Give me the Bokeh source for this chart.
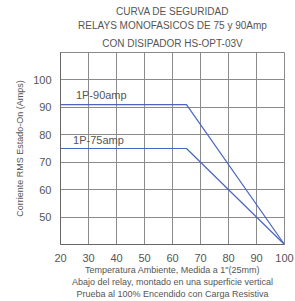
from bokeh.plotting import figure
from bokeh.models import Label, Range1d, FixedTicker, Title
from bokeh.embed import file_html
from bokeh.resources import INLINE

# Data
temp_90 = [20, 65, 100]
amps_90 = [91, 91, 40]
temp_75 = [20, 65, 100]
amps_75 = [75, 75, 40]
x_ticks = [20, 30, 40, 50, 60, 70, 80, 90, 100]
y_ticks = [50, 60, 70, 80, 90, 100]
title_lines = ["CURVA DE SEGURIDAD",
               "RELAYS MONOFASICOS DE 75 y 90Amp",
               "CON DISIPADOR HS-OPT-03V"]
xlabel_lines = ["Temperatura Ambiente, Medida a 1\"(25mm)",
                "Abajo del relay, montado en una superficie vertical",
                "Prueba al 100% Encendido con Carga Resistiva"]
ylabel = "Corriente RMS Estado-On (Amps)"
series_labels = ["1P-90amp", "1P-75amp"]

FONT = "Liberation Sans"
TXT = "#555555"
GRID = "#8a8a8a"
LINE = "#4a66c0"

p = figure(width=295, height=301, output_backend="svg", toolbar_location=None,
           title=None,
           x_range=Range1d(20, 100), y_range=Range1d(40, 110),
           min_border_left=60, min_border_right=11, min_border_top=52, min_border_bottom=54)
p.outline_line_color = GRID
p.background_fill_color = "white"

# title lines, added from the one nearest the frame outward
for i, t in enumerate(reversed(title_lines)):
    p.add_layout(Title(text=t, align="center", text_font=FONT, text_font_size="10px",
                       text_font_style="normal", text_color=TXT,
                       standoff=(8 if i == 0 else 1)), "above")

for ax in (p.xaxis[0], p.yaxis[0]):
    ax.major_tick_line_color = None
    ax.minor_tick_line_color = None
    ax.axis_line_color = "#666666"
    ax.major_label_text_font = FONT
    ax.major_label_text_font_size = "11px"
    ax.major_label_text_color = TXT
p.xaxis.major_label_standoff = 3
p.yaxis.major_label_standoff = 3
p.xaxis.ticker = FixedTicker(ticks=x_ticks)
p.yaxis.ticker = FixedTicker(ticks=y_ticks)
p.xgrid.ticker = FixedTicker(ticks=x_ticks)
p.ygrid.ticker = FixedTicker(ticks=y_ticks)
p.grid.grid_line_color = GRID
p.grid.grid_line_width = 1
p.grid.grid_line_alpha = 1

p.yaxis.axis_label = ylabel
p.yaxis.axis_label_text_font = FONT
p.yaxis.axis_label_text_font_size = "9px"
p.yaxis.axis_label_text_font_style = "normal"
p.yaxis.axis_label_text_color = TXT
p.yaxis.axis_label_standoff = 5

p.xaxis.axis_label = "\n".join(xlabel_lines)
p.xaxis.axis_label_text_font = FONT
p.xaxis.axis_label_text_font_size = "9px"
p.xaxis.axis_label_text_font_style = "normal"
p.xaxis.axis_label_text_color = TXT
p.xaxis.axis_label_text_line_height = 1.2
p.xaxis.axis_label_standoff = 0

p.line(temp_90, amps_90, line_color=LINE, line_width=1.2)
p.line(temp_75, amps_75, line_color=LINE, line_width=1.2)

p.add_layout(Label(x=25.5, y=92.3, text=series_labels[0], text_font=FONT,
                   text_font_size="11px", text_color=TXT, text_baseline="bottom"))
p.add_layout(Label(x=24.5, y=76.0, text=series_labels[1], text_font=FONT,
                   text_font_size="11px", text_color=TXT, text_baseline="bottom"))

open("out.html", "w").write(file_html(p, INLINE))
